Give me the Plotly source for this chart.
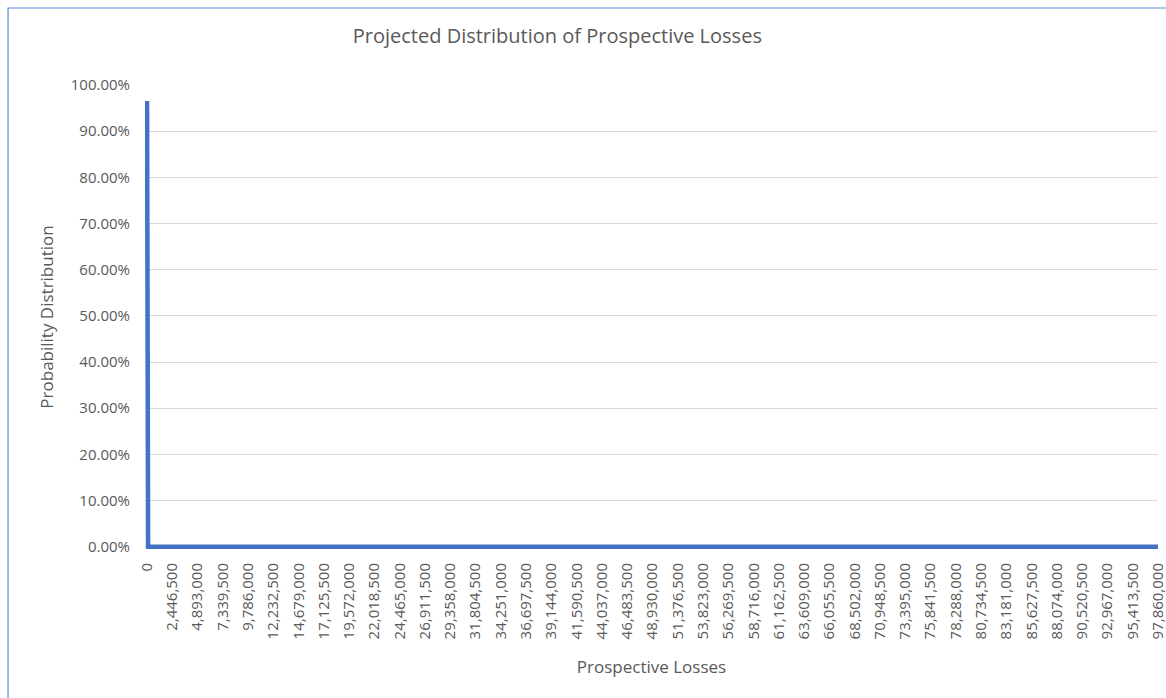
import plotly.graph_objects as go

# Data
losses = [0, 97860, 97860000]
probabilities = [0.9655, 0.0, 0.0]

# Category labels shown on the x axis
x_tick_values = [
    0, 2446500, 4893000, 7339500, 9786000, 12232500, 14679000, 17125500,
    19572000, 22018500, 24465000, 26911500, 29358000, 31804500, 34251000,
    36697500, 39144000, 41590500, 44037000, 46483500, 48930000, 51376500,
    53823000, 56269500, 58716000, 61162500, 63609000, 66055500, 68502000,
    70948500, 73395000, 75841500, 78288000, 80734500, 83181000, 85627500,
    88074000, 90520500, 92967000, 95413500, 97860000,
]
x_tick_labels = [f"{v:,}" for v in x_tick_values]

TEXT = "#595959"
GRID = "#D9D9D9"
LINE = "#4472C4"
FONT = "Open Sans"

fig = go.Figure()

fig.add_trace(go.Scatter(
    x=losses,
    y=probabilities,
    mode="lines",
    line=dict(color=LINE, width=4.5),
    showlegend=False,
    hovertemplate="%{x:,}<br>%{y:.2%}<extra></extra>",
))

# chart border (only top and left edges are visible in the frame)
fig.add_shape(
    type="rect", xref="paper", yref="paper",
    x0=-0.1352, x1=1.3, y0=-0.6, y1=1.166,
    line=dict(color="#5B8BD9", width=1.2),
    fillcolor="rgba(0,0,0,0)", layer="below",
)

fig.update_layout(
    width=1166,
    height=698,
    margin=dict(l=145, r=8, t=85, b=149),
    paper_bgcolor="white",
    plot_bgcolor="white",
    font=dict(family=FONT, color=TEXT, size=15),
    title=dict(
        text="Projected Distribution of Prospective Losses",
        x=0.478, xanchor="center",
        y=0.948, yanchor="middle",
        font=dict(size=20, color=TEXT, family=FONT),
    ),
)

fig.update_xaxes(
    range=[-200000, 97860001],
    tickmode="array",
    tickvals=x_tick_values,
    ticktext=x_tick_labels,
    tickangle=-90,
    tickfont=dict(size=15, color=TEXT),
    ticklabelstandoff=10,
    ticklabeloverflow="allow",
    automargin=False,
    showgrid=False,
    zeroline=False,
    showline=False,
    title=dict(text="Prospective Losses", font=dict(size=17, color=TEXT), standoff=22),
)

fig.update_yaxes(
    range=[-0.005, 1],
    tickvals=[0, 0.1, 0.2, 0.3, 0.4, 0.5, 0.6, 0.7, 0.8, 0.9, 1.0],
    tickformat=".2%",
    tickfont=dict(size=15, color=TEXT),
    ticklabelstandoff=14,
    automargin=False,
    showgrid=True,
    gridcolor=GRID,
    gridwidth=1,
    zeroline=False,
    showline=False,
    title=dict(text="Probability Distribution", font=dict(size=17, color=TEXT), standoff=12),
)

fig.write_html(
    "out.html",
    config={"displayModeBar": False},
    post_script="document.body.style.margin='0';",
)
